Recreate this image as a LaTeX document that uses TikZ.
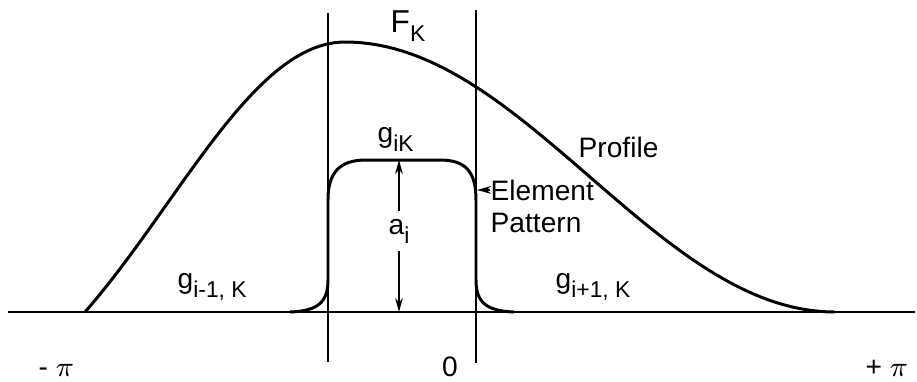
\documentclass[tikz,border=0pt]{standalone}
\usepackage{fontspec}
\setmainfont{Liberation Sans}
\usetikzlibrary{arrows.meta}
\newcommand{\lowsub}[1]{\raisebox{-2.6pt}{\fontsize{6.5}{7}\selectfont #1}}

\begin{document}
\begin{tikzpicture}[
  x=0.01cm, y=-0.01cm,
  lbl/.style={font=\fontsize{8}{9.5}\selectfont, inner sep=0pt},
  curve/.style={line width=0.85pt, line join=round},
  guide/.style={line width=0.4pt},
  axis/.style={line width=0.6pt},
  arr/.style={-{Stealth[length=4pt,width=2.2pt]}, line width=0.5pt}
]
\useasboundingbox (0,0) rectangle (917,381);
\coordinate (axl) at (8,312);
\coordinate (axr) at (915,312);
\coordinate (lt) at (328,13);
\coordinate (lb) at (328,362);
\coordinate (rt) at (476,10);
\coordinate (rb) at (476,363);
\coordinate (atop) at (399,160);
\coordinate (abot) at (399,312);
\coordinate (edge) at (477,188);
\draw[axis] (axl) -- (axr);
\draw[guide] (lt) -- (lb);
\draw[guide] (rt) -- (rb);
\draw[curve] plot[domain=0:1, samples=50, variable=\t]
    ({85+260*\t}, {312-270*(0.7*sin(90*\t)+0.15*(1-cos(180*\t)))})
  -- plot[domain=0:1, samples=60, variable=\t]
    ({345+490*\t}, {312-135*(1+cos(180*\t))});
\draw[curve] (290,312) .. controls (318,311) and (328,302) .. (328,280) -- (328,200)
  .. controls (328,172) and (340,160) .. (366,160) -- (440,160)
  .. controls (466,160) and (476,172) .. (476,200) -- (476,280)
  .. controls (476,302) and (486,311) .. (514,312);
\node[lbl, fill=white, inner sep=2pt] (ai) at (399,231) {a\lowsub{i}};
\draw[arr] (ai) -- (atop);
\draw[arr] (ai) -- (abot);
\node[lbl, anchor=base west, font=\fontsize{9}{10}\selectfont] (fk) at (390,32) {F\lowsub{K}};
\node[lbl, anchor=base west] (gik) at (377,142) {g\lowsub{iK}};
\node[lbl, anchor=base west] (gim) at (177,288) {g\lowsub{i-1, K}};
\node[lbl, anchor=base west] (gip) at (555,288) {g\lowsub{i+1, K}};
\node[lbl, anchor=base west] (prof) at (578,157) {Profile};
\node[lbl, anchor=base west] (elem) at (490,200) {Element};
\node[lbl, anchor=base west] (patt) at (490,232) {Pattern};
\draw[arr] (elem.west) -- (edge |- elem.west);
\node[lbl, anchor=base west] (mpi) at (38,376) {- $\pi$};
\node[lbl, anchor=base] (zero) at (450,376) {0};
\node[lbl, anchor=base west] (ppi) at (865,376) {+ $\pi$};
\end{tikzpicture}
\end{document}
